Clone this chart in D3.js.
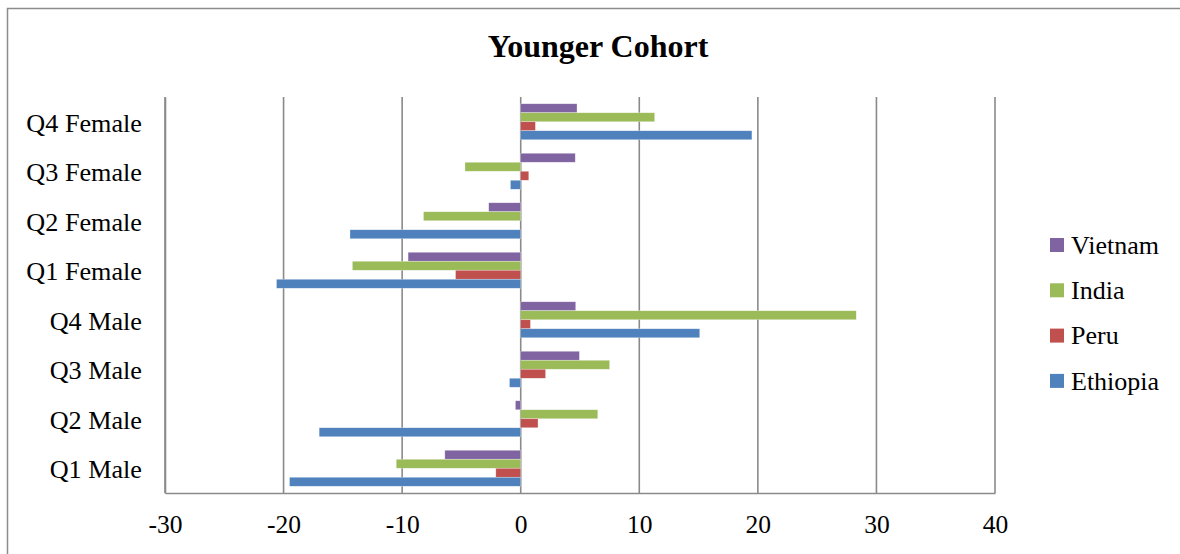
<!DOCTYPE html>
<html>
<head>
<meta charset="utf-8">
<script src="https://cdn.jsdelivr.net/npm/d3@7"></script>
<style>
  html, body { margin: 0; padding: 0; background: #ffffff; }
  svg { display: block; }
  text { font-family: "Liberation Serif", "Times New Roman", serif; fill: #000; }
</style>
</head>
<body>
<svg id="chart" width="1180" height="554"></svg>
<script>
const categories = ["Q1 Male", "Q2 Male", "Q3 Male", "Q4 Male", "Q1 Female", "Q2 Female", "Q3 Female", "Q4 Female"];
const seriesNames = ["Vietnam", "India", "Peru", "Ethiopia"];
const vietnam  = [-6.4, -0.45, 4.95, 4.64, -9.5, -2.7, 4.6, 4.75];
const india    = [-10.5, 6.5, 7.5, 28.3, -14.2, -8.2, -4.7, 11.3];
const peru     = [-2.1, 1.46, 2.1, 0.82, -5.5, 0, 0.68, 1.24];
const ethiopia = [-19.5, -17.0, -0.95, 15.1, -20.6, -14.4, -0.87, 19.5];
const xTicks = [-30, -20, -10, 0, 10, 20, 30, 40];
const xTickLabels = ["-30", "-20", "-10", "0", "10", "20", "30", "40"];
const colors = ["#8064A2", "#9BBB59", "#C0504D", "#4F81BD"];
const title = "Younger Cohort";

const seriesValues = [vietnam, india, peru, ethiopia];
const svg = d3.select("#chart");

// outer frame
svg.append("rect")
  .attr("x", 7.5).attr("y", 8.5).attr("width", 1300).attr("height", 700)
  .attr("fill", "none").attr("stroke", "#8c8c8c").attr("stroke-width", 1.5);

const plot = { left: 165, right: 995, top: 97, bottom: 493 };

const x = d3.scaleLinear().domain([-30, 40]).range([plot.left, plot.right]);
const y = d3.scaleBand().domain(categories.slice().reverse()).range([plot.top, plot.bottom]);
const inner = d3.scaleBand().domain(seriesNames).range([0, y.bandwidth()]).paddingInner(0).paddingOuter(0.75);
const color = d3.scaleOrdinal().domain(seriesNames).range(colors);

// title
svg.append("text")
  .attr("x", 598).attr("y", 57)
  .attr("text-anchor", "middle")
  .style("font-size", "32px").style("font-weight", "bold")
  .text(title);

// gridlines
svg.append("g").selectAll("line").data(xTicks).join("line")
  .attr("x1", d => x(d)).attr("x2", d => x(d))
  .attr("y1", plot.top).attr("y2", plot.bottom)
  .attr("stroke", "#8a8a8a").attr("stroke-width", 1.6);

// bars
const rows = [];
categories.forEach((c, i) => {
  seriesNames.forEach((s, j) => rows.push({ cat: c, series: s, value: seriesValues[j][i] }));
});
svg.append("g").selectAll("rect").data(rows.filter(d => d.value !== 0)).join("rect")
  .attr("x", d => x(Math.min(0, d.value)))
  .attr("width", d => Math.abs(x(d.value) - x(0)))
  .attr("y", d => y(d.cat) + inner(d.series))
  .attr("height", inner.bandwidth())
  .attr("fill", d => color(d.series))
  .attr("stroke", "rgba(255,255,255,0.5)").attr("stroke-width", 0.6);

// axes
const xAxis = d3.axisBottom(x).tickValues(xTicks)
  .tickFormat((d, i) => xTickLabels[i]).tickSize(0).tickPadding(0);
const gx = svg.append("g").attr("transform", `translate(0,${plot.bottom})`).call(xAxis);
gx.select(".domain").attr("stroke", "#8a8a8a").attr("stroke-width", 1.6);
gx.selectAll("text")
  .attr("y", 40).attr("dy", null)
  .style("font-size", "25.5px")
  .style("font-family", "\"Liberation Serif\", \"Times New Roman\", serif")
  .attr("fill", "#000");

const yAxis = d3.axisLeft(y).tickSize(0).tickPadding(0);
const gy = svg.append("g").attr("transform", `translate(${plot.left},0)`).call(yAxis);
gy.select(".domain").attr("stroke", "#8a8a8a").attr("stroke-width", 1.6);
gy.selectAll("text")
  .attr("x", 142 - plot.left).attr("dy", null)
  .attr("y", 9.8)
  .attr("text-anchor", "end")
  .style("font-size", "26.2px")
  .style("font-family", "\"Liberation Serif\", \"Times New Roman\", serif")
  .attr("fill", "#000");

// legend
const legend = svg.append("g");
seriesNames.forEach((s, i) => {
  const cy = 245 + i * 45.3;
  legend.append("rect").attr("x", 1050).attr("y", cy - 7).attr("width", 14).attr("height", 14).attr("fill", color(s));
  legend.append("text").attr("x", 1071).attr("y", cy + 8.7)
    .style("font-size", "26px").text(s);
});
</script>
</body>
</html>
